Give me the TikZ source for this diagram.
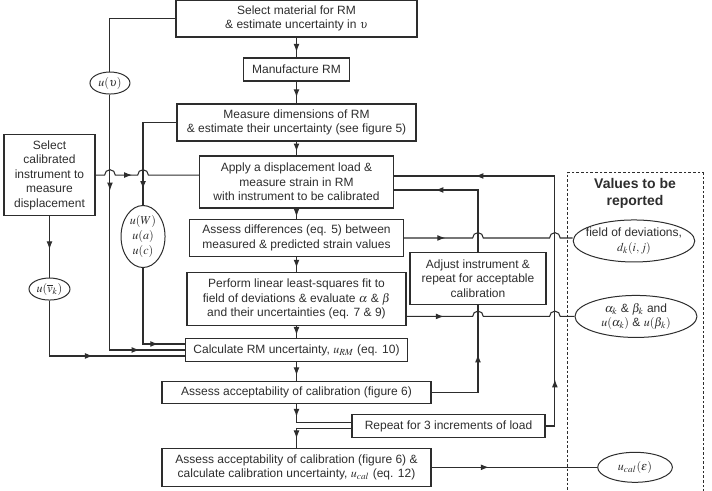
\documentclass[tikz,border=0pt]{standalone}
\usepackage{mathptmx}
\usepackage[no-math]{fontspec}
\setmainfont{Liberation Sans}
\usepackage{xcolor}
\usetikzlibrary{shapes.geometric, arrows.meta, positioning, calc, decorations.markings}
\definecolor{linegray}{RGB}{45, 45, 45}
\tikzstyle{stage} = [rectangle, draw=linegray, line width=0.8pt, text=linegray, align=center, inner sep=2pt, font=\fontsize{9pt}{10.9pt}\selectfont]
\tikzstyle{unc} = [ellipse, draw=linegray, line width=0.75pt, text=linegray, align=center, inner sep=0pt, font=\fontsize{9pt}{10.9pt}\selectfont]
\tikzstyle{conn} = [draw, color=linegray, line width=0.8pt]
\tikzset{arrowat/.style={postaction={decorate, decoration={markings, mark=at position #1 with {\arrow{Latex[length=6pt,width=4.4pt]}}}}}}

\begin{document}
\begin{tikzpicture}[node distance=42pt]
\useasboundingbox (-222.375pt,13.875pt) rectangle (311.625pt,-353.625pt);

% Main flow
\node (material) [stage, minimum width=180.75pt, minimum height=27.75pt] {Select material for RM\\ \& estimate uncertainty in $\upsilon$};
\node (manufacture) [stage, below of=material, yshift=3.75pt, minimum width=79.5pt, minimum height=17.25pt] {Manufacture RM};
\node (dimensions) [stage, below of=manufacture, yshift=2.25pt, minimum width=179.25pt, minimum height=27.75pt] {Measure dimensions of RM\\ \& estimate their uncertainty (see figure 5)};
\node (apply) [stage, below of=dimensions, yshift=-2.6pt, minimum width=145.5pt, minimum height=39pt] {Apply a displacement load \&\\ measure strain in RM\\ with instrument to be calibrated};
\node (differences) [stage, below of=apply, minimum width=160.5pt, minimum height=27.75pt] {Assess differences (eq. 5) between\\ measured \& predicted strain values};
\node (fit) [stage, below of=differences, yshift=-3.75pt, minimum width=164.25pt, minimum height=39.75pt] {Perform linear least-squares fit to\\ field of deviations \& evaluate $\alpha$ \& $\beta$\\ and their uncertainties (eq. 7 \& 9)};
\node (calcrm) [stage, below of=fit, yshift=3.75pt, minimum width=166.5pt, minimum height=17.25pt] {Calculate RM uncertainty, $u_{RM}$ (eq. 10)};
\node (accept) [stage, below of=calcrm, yshift=10pt, minimum width=201.75pt, minimum height=16.5pt] {Assess acceptability of calibration (figure 6)};
\node (final) [stage, below of=accept, yshift=-14pt, minimum width=201.75pt, minimum height=28.5pt] {Assess acceptability of calibration (figure 6) \&\\ calculate calibration uncertainty, $u_{cal}$ (eq. 12)};

% Loop back boxes
\node (adjust) [stage, right of=fit, xshift=94.1pt, yshift=15.35pt, minimum width=102pt, minimum height=39pt] {Adjust instrument \&\\ repeat for acceptable\\ calibration};
\node (repeat) [stage, right of=accept, xshift=72pt, yshift=-25pt, minimum width=144.75pt, minimum height=17.25pt] {Repeat for 3 increments of load};
\coordinate (riser) at ($(repeat.east)+(7pt,0)$);

% Uncertainty inputs
\node (instrument) [stage, left of=apply, xshift=-143.25pt, yshift=5.2pt, minimum width=68.25pt, minimum height=60.75pt] {Select\\ calibrated\\ instrument to\\ measure\\ displacement};
\node (unu) [unc, left of=manufacture, xshift=-97.9pt, yshift=-10.15pt, minimum width=30pt, minimum height=16.5pt] {$u(\upsilon)$};
\node (udim) [unc, left of=differences, xshift=-73.1pt, yshift=1.1pt, minimum width=33pt, minimum height=46.5pt] {$u(W)$\\ $u(a)$\\ $u(c)$};
\node (uvk) [unc, below of=instrument, yshift=-43.5pt, minimum width=30.75pt, minimum height=16.5pt] {$u(\overline{v}_k)$};

% Values to be reported
\node (reported) [draw=linegray, line width=0.75pt, dash pattern=on 2pt off 1.5pt, minimum width=102pt, minimum height=246pt, right of=fit, xshift=211.9pt, yshift=-28.15pt] {};
\node (heading) [below=1.5pt of reported.north, align=center, text=linegray, font=\bfseries\fontsize{10.5pt}{12.75pt}\selectfont] {Values to be\\ reported};
\node (deviations) [unc, right of=differences, xshift=211.1pt, yshift=-2.25pt, inner xsep=-3.8pt, minimum width=87.75pt, minimum height=31.5pt] {field of deviations,\\ $d_k(i,j)$};
\node (coeffs) [unc, right of=fit, xshift=212.6pt, yshift=-13.1pt, minimum width=91.5pt, minimum height=31.5pt] {$\alpha_k$ \& $\beta_k$ and\\ $u(\alpha_k)$ \& $u(\beta_k)$};
\node (ucal) [unc, right of=final, xshift=211.9pt, minimum width=56pt, minimum height=22.5pt] {$u_{cal}(\varepsilon)$};

% Arrows
\draw [conn, arrowat=0.72] (material) -- (manufacture);
\draw [conn, arrowat=0.72] (manufacture) -- (dimensions);
\draw [conn, arrowat=0.72] (dimensions) -- (apply);
\draw [conn, arrowat=0.78] (apply) -- (differences);
\draw [conn, arrowat=0.72] (differences) -- (fit);
\draw [conn, arrowat=0.75] (fit) -- (calcrm);
\draw [conn, arrowat=0.7] (calcrm) -- (accept);
\draw [conn, arrowat=9.5pt] (accept.south) |- ([yshift=2.6pt]repeat.west);
\draw [conn, arrowat=-7pt] ([yshift=-2pt]repeat.west) -| (final.north);
\draw [conn, arrowat=43pt] (final) -- (ucal);

% Loops back to the loading step
\draw [conn, arrowat=42pt, arrowat=-61pt] (repeat.east) -- (riser) |- ([yshift=4.5pt]apply.east);
\draw [conn, arrowat=-37pt] (accept.east) -| (adjust.south);
\draw [conn, arrowat=-31pt] (adjust.north) |- ([yshift=-6pt]apply.east);

% Reported values
\draw [conn, arrowat=31pt] (differences.east) -- ($(differences.east -| adjust)+(-4pt,0)$) arc[start angle=180, end angle=0, radius=4pt] -- ($(differences.east -| riser)+(-4pt,0)$) arc[start angle=180, end angle=0, radius=4pt] -- (differences.east -| deviations.west);
\draw [conn, arrowat=28pt] (coeffs -| fit.east) -- ($(coeffs -| adjust)+(-4pt,0)$) arc[start angle=180, end angle=0, radius=4pt] -- ($(coeffs -| riser)+(-4pt,0)$) arc[start angle=180, end angle=0, radius=4pt] -- (coeffs.west);

% Uncertainty flows
\draw [conn] (material.west) -| (unu.north);
\draw [conn, arrowat=72pt, arrowat=-34pt] (unu.south) |- (calcrm.west);
\draw [conn, arrowat=-12pt] (dimensions.west) -| (udim.north);
\draw [conn, arrowat=-20pt] (udim.south) |- ([yshift=4.5pt]calcrm.west);
\draw [conn, arrowat=32pt] (instrument.east) -- ($(instrument.east -| unu)+(-4pt,0)$) arc[start angle=180, end angle=0, radius=4pt] -- ($(instrument.east -| udim)+(-4pt,0)$) arc[start angle=180, end angle=0, radius=4pt] -- (instrument.east -| apply.west);
\draw [conn, arrowat=25pt] (instrument) -- (uvk);
\draw [conn, arrowat=-69pt] (uvk.south) |- ([yshift=-4.5pt]calcrm.west);

\end{tikzpicture}
\end{document}
